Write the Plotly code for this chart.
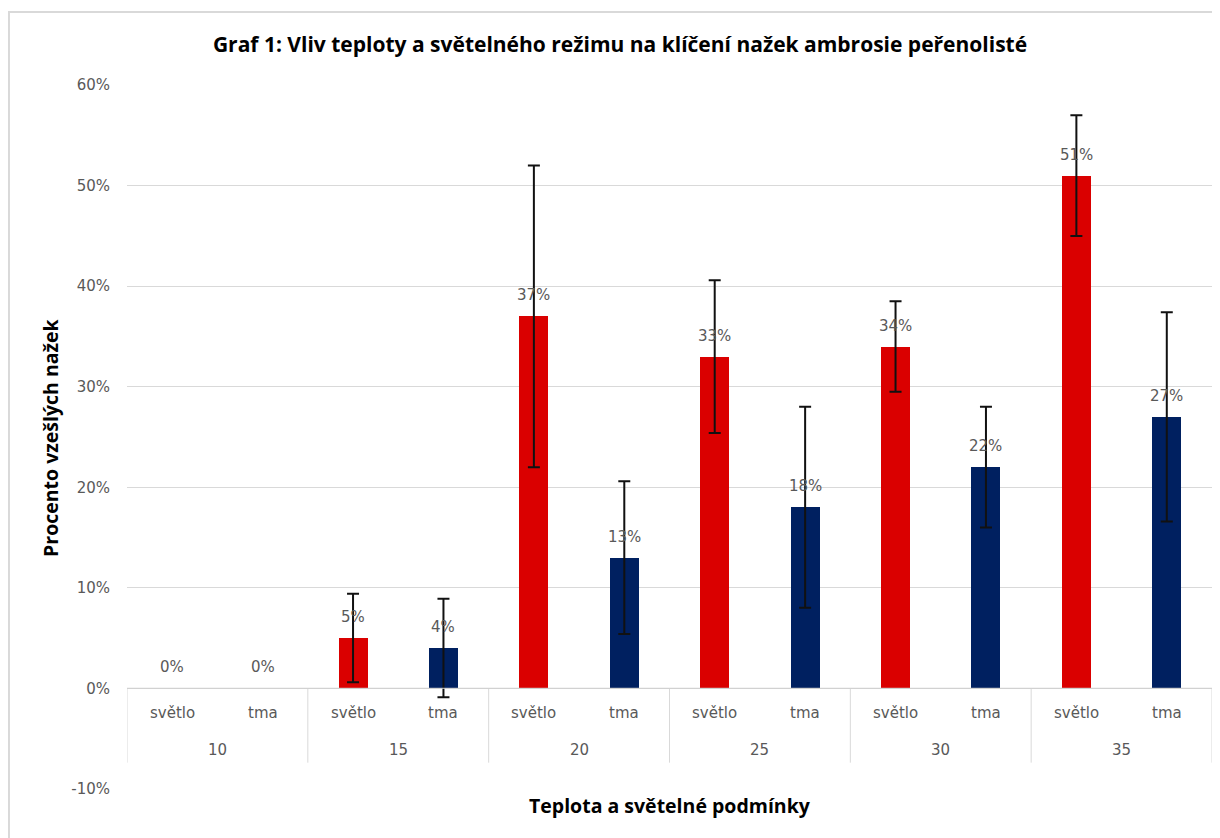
import plotly.graph_objects as go

# ---- data ----
temps = ["10", "15", "20", "25", "30", "35"]
light_labels = ["světlo", "tma"]
svetlo = [0, 5, 37, 33, 34, 51]
tma = [0, 4, 13, 18, 22, 27]
svetlo_err = [None, 4.4, 15.0, 7.6, 4.5, 6.0]
tma_err = [None, 4.9, 7.6, 10.0, 6.0, 10.4]
ytick_vals = [-10, 0, 10, 20, 30, 40, 50, 60]
ytick_text = ["-10%", "0%", "10%", "20%", "30%", "40%", "50%", "60%"]

title = "Graf 1: Vliv teploty a světelného režimu na klíčení nažek ambrosie peřenolisté"
x_title = "Teplota a světelné podmínky"
y_title = "Procento vzešlých nažek"

RED = "#DA0000"
NAVY = "#002060"
GRID = "#D9D9D9"
LABEL = "#595959"
FONT = "DejaVu Sans"
TFONT = "Open Sans"
ERR = "#111111"

xs_sv = [2 * i for i in range(len(temps))]
xs_tm = [2 * i + 1 for i in range(len(temps))]

fig = go.Figure()
for xs, vals, errs, col in ((xs_sv, svetlo, svetlo_err, RED), (xs_tm, tma, tma_err, NAVY)):
    fig.add_trace(go.Bar(
        x=xs, y=vals, width=0.32, marker=dict(color=col, line=dict(width=0)),
        hoverinfo="skip", showlegend=False))
    keep = [k for k, e in enumerate(errs) if e is not None]
    fig.add_trace(go.Scatter(
        x=[xs[k] for k in keep], y=[vals[k] for k in keep], mode="markers",
        marker=dict(size=1, opacity=0),
        error_y=dict(type="data", array=[errs[k] for k in keep], visible=True,
                     color=ERR, thickness=2, width=6),
        hoverinfo="skip", showlegend=False))

annotations = []
# data labels
for xs, vals in ((xs_sv, svetlo), (xs_tm, tma)):
    for x, v in zip(xs, vals):
        annotations.append(dict(x=x, y=v, xref="x", yref="y", text=f"{v}%",
                                showarrow=False, yanchor="middle", yshift=21,
                                font=dict(family=FONT, size=15, color=LABEL)))
# category labels
for i, t in enumerate(temps):
    for j, lab in enumerate(light_labels):
        annotations.append(dict(x=2 * i + j, y=0, xref="x", yref="y", text=lab,
                                showarrow=False, yanchor="middle", yshift=-25,
                                font=dict(family=FONT, size=15, color=LABEL)))
    annotations.append(dict(x=2 * i + 0.5, y=0, xref="x", yref="y", text=t,
                            showarrow=False, yanchor="middle", yshift=-62,
                            font=dict(family=FONT, size=15, color=LABEL)))
# axis titles
annotations.append(dict(x=-0.071, y=0.5, xref="paper", yref="paper", text=y_title,
                        textangle=-90, showarrow=False, xanchor="center", yanchor="middle",
                        font=dict(family=TFONT, size=19.5, color="black", weight="bold")))
annotations.append(dict(x=0.5, y=-0.024, xref="paper", yref="paper", text=x_title,
                        showarrow=False, xanchor="center", yanchor="middle",
                        font=dict(family=TFONT, size=19.5, color="black", weight="bold")))

shapes = []
# category separators
for k in range(len(temps) + 1):
    shapes.append(dict(type="line", xref="x", yref="y", x0=2 * k - 0.5, x1=2 * k - 0.5,
                       y0=0, y1=-7.4, line=dict(color=GRID, width=1)))
# zero axis line
shapes.append(dict(type="line", xref="paper", yref="y", x0=0, x1=1, y0=0, y1=0,
                   line=dict(color="#CFCFCF", width=1)))
# chart border
shapes.append(dict(type="rect", xref="paper", yref="paper", x0=-0.1088, x1=1.03,
                   y0=-0.12, y1=1.1037, line=dict(color=GRID, width=2),
                   fillcolor="rgba(0,0,0,0)", layer="below"))

fig.update_layout(
    width=1220, height=838,
    margin=dict(l=119, r=16, t=77, b=57),
    paper_bgcolor="white", plot_bgcolor="white",
    title=dict(text=title, x=612 / 1220, xanchor="center", y=1 - 37 / 838,
               yanchor="middle", yref="container",
               font=dict(family=TFONT, size=21, color="black", weight="bold")),
    xaxis=dict(range=[-0.5, 11.5], showticklabels=False, showgrid=False,
               zeroline=False, showline=False, ticks=""),
    yaxis=dict(range=[-10.02, 60.02], tickvals=ytick_vals, ticktext=ytick_text,
               showgrid=True, gridcolor=GRID, gridwidth=1, zeroline=False,
               showline=False, ticks="", ticklen=0, ticklabelstandoff=16,
               tickfont=dict(family=FONT, size=15, color=LABEL)),
    annotations=annotations, shapes=shapes, bargap=0, barmode="overlay",
)

fig.write_html("out.html")
